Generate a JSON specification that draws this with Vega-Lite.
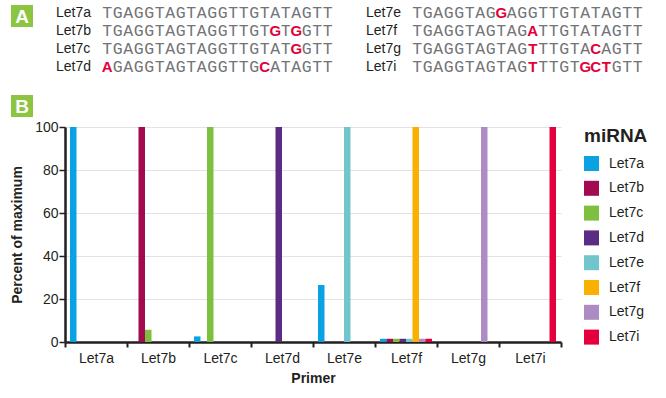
{
  "$schema": "https://vega.github.io/schema/vega-lite/v6.json",
  "background": "white",
  "padding": {"left": 10, "top": 5, "right": 5, "bottom": 5},
  "spacing": 0,
  "config": {"font": "Liberation Sans", "view": {"stroke": null}},
  "datasets": {
    "badges": [
      {"label": "A", "col": 0, "row": 0},
      {"label": "B", "col": 0, "row": 5}
    ],
    "seqs": [
      {"name": "Let7a", "col": 0, "row": 0, "seq": "TGAGGTAGTAGGTTGTATAGTT", "mm": []},
      {"name": "Let7b", "col": 0, "row": 1, "seq": "TGAGGTAGTAGGTTGTGTGGTT", "mm": [16, 18]},
      {"name": "Let7c", "col": 0, "row": 2, "seq": "TGAGGTAGTAGGTTGTATGGTT", "mm": [18]},
      {"name": "Let7d", "col": 0, "row": 3, "seq": "AGAGGTAGTAGGTTGCATAGTT", "mm": [0, 15]},
      {"name": "Let7e", "col": 1, "row": 0, "seq": "TGAGGTAGGAGGTTGTATAGTT", "mm": [8]},
      {"name": "Let7f", "col": 1, "row": 1, "seq": "TGAGGTAGTAGATTGTATAGTT", "mm": [11]},
      {"name": "Let7g", "col": 1, "row": 2, "seq": "TGAGGTAGTAGTTTGTACAGTT", "mm": [11, 17]},
      {"name": "Let7i", "col": 1, "row": 3, "seq": "TGAGGTAGTAGTTTGTGCTGTT", "mm": [11, 16, 17, 18]}
    ],
    "bars": [
      {"primer": "Let7a", "mirna": "Let7a", "value": 100},
      {"primer": "Let7b", "mirna": "Let7b", "value": 100},
      {"primer": "Let7b", "mirna": "Let7c", "value": 5.7},
      {"primer": "Let7c", "mirna": "Let7a", "value": 2.6},
      {"primer": "Let7c", "mirna": "Let7c", "value": 100},
      {"primer": "Let7d", "mirna": "Let7d", "value": 100},
      {"primer": "Let7e", "mirna": "Let7a", "value": 26.5},
      {"primer": "Let7e", "mirna": "Let7e", "value": 100},
      {"primer": "Let7f", "mirna": "Let7a", "value": 1.5},
      {"primer": "Let7f", "mirna": "Let7b", "value": 1.5},
      {"primer": "Let7f", "mirna": "Let7c", "value": 1.5},
      {"primer": "Let7f", "mirna": "Let7d", "value": 1.5},
      {"primer": "Let7f", "mirna": "Let7e", "value": 1.5},
      {"primer": "Let7f", "mirna": "Let7f", "value": 100},
      {"primer": "Let7f", "mirna": "Let7g", "value": 1.5},
      {"primer": "Let7f", "mirna": "Let7i", "value": 1.5},
      {"primer": "Let7g", "mirna": "Let7g", "value": 100},
      {"primer": "Let7i", "mirna": "Let7i", "value": 100}
    ]
  },
  "vconcat": [
    {
      "width": 496,
      "height": 108,
      "encoding": {
        "x": {"field": "cx", "type": "quantitative", "scale": {"domain": [0, 47.238], "nice": false, "zero": false}, "axis": null},
        "y": {"field": "row", "type": "quantitative", "scale": {"domain": [0, 6], "nice": false, "reverse": true}, "axis": null}
      },
      "layer": [
        {
          "data": {"name": "badges"},
          "transform": [{"calculate": "datum.col * 29.524", "as": "cx"}],
          "mark": {"type": "point", "shape": "square", "filled": true, "size": 484, "color": "#8cc540", "opacity": 1, "xOffset": -43, "yOffset": 4}
        },
        {
          "data": {"name": "badges"},
          "transform": [{"calculate": "datum.col * 29.524", "as": "cx"}],
          "mark": {"type": "text", "color": "white", "fontWeight": "bold", "fontSize": 19, "align": "center", "baseline": "middle", "dx": -43, "dy": 5},
          "encoding": {"text": {"field": "label"}}
        },
        {
          "data": {"name": "seqs"},
          "transform": [{"calculate": "datum.col * 29.524", "as": "cx"}],
          "mark": {"type": "text", "align": "left", "baseline": "middle", "dx": -9, "dy": 1, "fontSize": 14, "color": "#231f20"},
          "encoding": {"text": {"field": "name"}}
        },
        {
          "data": {"name": "seqs"},
          "transform": [
            {"calculate": "split(datum.seq, '')", "as": "ch"},
            {"flatten": ["ch"]},
            {"window": [{"op": "row_number", "as": "i"}], "groupby": ["name"]},
            {"calculate": "indexof(datum.mm, datum.i - 1) >= 0", "as": "red"},
            {"calculate": "datum.col * 29.524 + 3.024 + datum.i", "as": "cx"},
            {"filter": "!datum.red"}
          ],
          "mark": {"type": "text", "align": "center", "baseline": "middle", "dy": 1, "font": "Liberation Mono", "fontSize": 16.5, "color": "#737477"},
          "encoding": {"text": {"field": "ch"}}
        },
        {
          "data": {"name": "seqs"},
          "transform": [
            {"calculate": "split(datum.seq, '')", "as": "ch"},
            {"flatten": ["ch"]},
            {"window": [{"op": "row_number", "as": "i"}], "groupby": ["name"]},
            {"calculate": "indexof(datum.mm, datum.i - 1) >= 0", "as": "red"},
            {"calculate": "datum.col * 29.524 + 3.024 + datum.i", "as": "cx"},
            {"filter": "datum.red"}
          ],
          "mark": {"type": "text", "align": "center", "baseline": "middle", "dy": 1, "font": "Liberation Sans", "fontWeight": "bold", "fontSize": 15, "color": "#e4003a"},
          "encoding": {"text": {"field": "ch"}}
        }
      ]
    },
    {
      "width": 496,
      "height": 215,
      "data": {"name": "bars"},
      "mark": {"type": "bar"},
      "encoding": {
        "x": {
          "field": "primer", "type": "nominal",
          "scale": {"domain": ["Let7a", "Let7b", "Let7c", "Let7d", "Let7e", "Let7f", "Let7g", "Let7i"], "paddingInner": 0, "paddingOuter": 0},
          "axis": {"title": "Primer", "labelAngle": 0, "tickBand": "extent", "grid": false, "domainColor": "#231f20", "domainWidth": 2.5, "tickColor": "#231f20", "tickWidth": 2, "tickSize": 5, "labelFontSize": 14, "labelColor": "#231f20", "labelPadding": 4, "titleFontSize": 14, "titleFontWeight": "bold", "titleColor": "#231f20", "titlePadding": 6}
        },
        "xOffset": {
          "field": "mirna", "type": "nominal",
          "scale": {"domain": ["Let7a", "Let7b", "Let7c", "Let7d", "Let7e", "Let7f", "Let7g", "Let7i"], "paddingInner": 0, "paddingOuter": 0.77}
        },
        "y": {
          "field": "value", "type": "quantitative",
          "scale": {"domain": [0, 100]},
          "axis": {"title": "Percent of maximum", "values": [0, 20, 40, 60, 80, 100], "gridColor": "#e2e2e2", "gridWidth": 1.2, "domainColor": "#231f20", "domainWidth": 2.5, "tickColor": "#231f20", "tickSize": 6, "tickWidth": 1.5, "labelFontSize": 14, "labelColor": "#231f20", "labelPadding": 1, "titleFontSize": 14, "titleFontWeight": "bold", "titleColor": "#231f20", "titlePadding": 10}
        },
        "color": {
          "field": "mirna", "type": "nominal",
          "scale": {"domain": ["Let7a", "Let7b", "Let7c", "Let7d", "Let7e", "Let7f", "Let7g", "Let7i"], "range": ["#0aa2e2", "#a30b50", "#7fbf3f", "#5b2c83", "#71c5cc", "#f9b000", "#ad8bc3", "#e4003d"]},
          "legend": {"title": "miRNA", "titleFontSize": 19, "titleFontWeight": "bold", "titleColor": "#231f20", "titlePadding": 10, "symbolType": "square", "symbolSize": 225, "symbolStrokeWidth": 0, "labelFontSize": 14, "labelColor": "#231f20", "labelOffset": 10, "rowPadding": 9.8, "offset": 23}
        }
      }
    }
  ],
  "resolve": {"legend": {"color": "independent"}}
}
